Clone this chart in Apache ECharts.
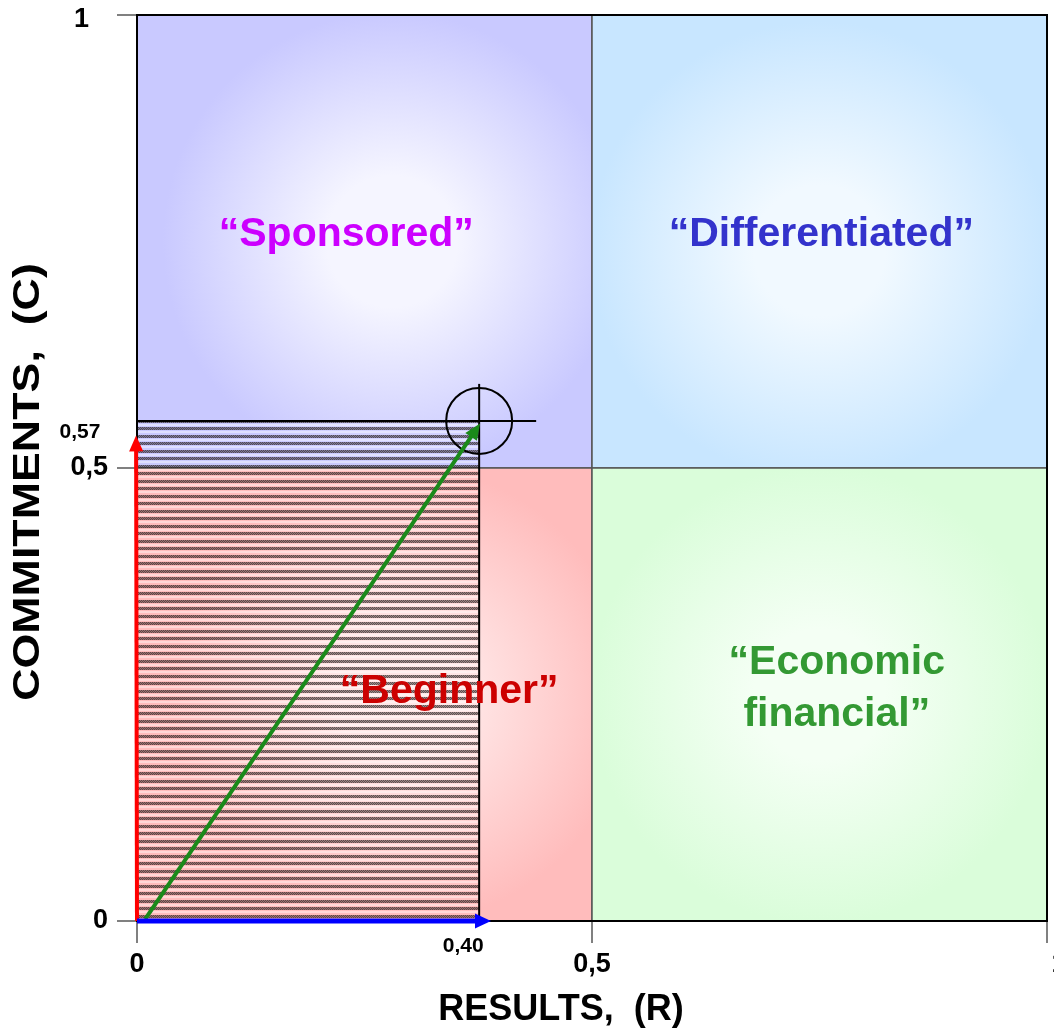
<!DOCTYPE html>
<html>
<head>
<meta charset="utf-8">
<script src="https://cdn.jsdelivr.net/npm/echarts@6/dist/echarts.min.js"></script>
<style>
html,body{margin:0;padding:0;background:#fff;}
#chart{width:1054px;height:1031px;}
</style>
</head>
<body>
<div id="chart"></div>
<script>
// ---- data ----
const axisTicks = [0, 0.5, 1];
const xTickLabels = ['0', '0,5', '1'];
const yTickLabels = ['0', '0,5', '1'];
const xAxisTitle = 'RESULTS,  (R)';
const yAxisTitle = 'COMMITMENTS,  (C)';
// quadrant bounds [x0, y0, x1, y1]
const quadrantBounds = [
  [0, 0.5, 0.5, 1],
  [0.5, 0.5, 1, 1],
  [0, 0, 0.5, 0.5],
  [0.5, 0, 1, 0.5]
];
const quadrantLabels = ['“Sponsored”', '“Differentiated”', '“Beginner”', '“Economic\nfinancial”'];
// label anchor in data units [x, y]
const quadrantLabelAnchors = [[0.23, 0.758], [0.752, 0.758], [0.343, 0.253], [0.769, 0.256]];
// measured position point (R, C) as drawn, and its annotated values
const pointR = 0.376;
const pointC = 0.552;
const pointLabels = ['0,40', '0,57'];
// arrows [x0, y0, x1, y1]
const arrowRC = [0.009, 0.002, 0.377, 0.549];
const arrowC = [0, 0, -0.001, 0.536];
const arrowR = [0, 0, 0.389, 0];
const arrows = [arrowRC, arrowC, arrowR];

// ---- styles ----
const FONT = '"Liberation Sans", Arial, sans-serif';
const quadrantStyles = [
  {outer: '#C9C9FF', inner: '#F5F5FF', cx: 0.56, cy: 0.5},
  {outer: '#C8E6FF', inner: '#F1F9FF', cx: 0.5, cy: 0.52},
  {outer: '#FFBCBC', inner: '#FFE6E6', cx: 0.58, cy: 0.5},
  {outer: '#DAFDDA', inner: '#F4FFF4', cx: 0.5, cy: 0.5}
];
const quadrantTextColors = ['#CC00FF', '#3333CC', '#CC0000', '#339933'];
const arrowStyles = [
  {color: '#1a8a1a', width: 4, len: 16, half: 7},
  {color: '#ff0000', width: 4, len: 16, half: 7},
  {color: '#0000ff', width: 5, len: 16, half: 7.5}
];

function makeHatch() {
  const c = document.createElement('canvas');
  c.width = 2; c.height = 15;
  const ctx = c.getContext('2d');
  const darkRows = [0, 1, 2, 7, 8, 9];
  const lightRows = [4, 5, 11, 12];
  for (let y = 0; y < 15; y++) {
    for (let x = 0; x < 2; x++) {
      if (darkRows.indexOf(y) >= 0) {
        ctx.fillStyle = ((x + y) % 2) ? 'rgba(35,25,25,0.72)' : 'rgba(35,25,25,0.45)';
        ctx.fillRect(x, y, 1, 1);
      } else if (lightRows.indexOf(y) >= 0) {
        ctx.fillStyle = 'rgba(255,255,255,0.4)';
        ctx.fillRect(x, y, 1, 1);
      }
    }
  }
  return c;
}
const hatchCanvas = makeHatch();

const chart = echarts.init(document.getElementById('chart'), null, {renderer: 'canvas'});

function labelFor(labels, v) {
  const i = axisTicks.indexOf(Math.round(v * 100) / 100);
  return i >= 0 ? labels[i] : '';
}

const option = {
  animation: false,
  grid: {left: 137, right: 7, top: 15, bottom: 110, containLabel: false, outerBoundsMode: 'none'},
  xAxis: {
    type: 'value', min: 0, max: 1, interval: 0.5,
    axisLine: {show: true, lineStyle: {color: '#000', width: 2}},
    axisTick: {show: true, length: 22, lineStyle: {color: '#808080', width: 2}},
    splitLine: {show: false},
    axisLabel: {
      margin: 30, fontSize: 27, fontWeight: 'bold', color: '#000', fontFamily: 'Liberation Sans',
      hideOverlap: false,
      formatter: v => (v === 1 ? '{edge|' + labelFor(xTickLabels, v) + '}' : labelFor(xTickLabels, v)),
      rich: {edge: {fontSize: 27, fontWeight: 'bold', fontFamily: 'Liberation Sans', color: '#000', padding: [0, 0, 0, 24]}}
    }
  },
  yAxis: {
    type: 'value', min: 0, max: 1, interval: 0.5,
    axisLine: {show: true, lineStyle: {color: '#000', width: 2}},
    axisTick: {show: true, length: 20, lineStyle: {color: '#808080', width: 2}},
    splitLine: {show: false},
    axisLabel: {
      margin: 29, fontSize: 27, fontWeight: 'bold', color: '#000', fontFamily: 'Liberation Sans',
      formatter: v => (v === 1 ? '{one|' + labelFor(yTickLabels, v) + '}' : labelFor(yTickLabels, v)),
      rich: {one: {fontSize: 27, fontWeight: 'bold', fontFamily: 'Liberation Sans', color: '#000', padding: [10, 19, 0, 0]}}
    }
  },
  graphic: [
    {type: 'text', x: 561, y: 1010, z: 100,
     style: {text: xAxisTitle, font: 'bold 36px ' + FONT, fill: '#000', align: 'center', verticalAlign: 'middle'}},
    {type: 'text', x: 29, y: 482, rotation: Math.PI / 2, scaleX: 1.21, z: 100,
     style: {text: yAxisTitle, font: 'bold 37px ' + FONT, fill: '#000', align: 'center', verticalAlign: 'middle'}}
  ],
  series: [
    {
      type: 'custom', z: 1, silent: true,
      data: quadrantBounds,
      renderItem: function (params, api) {
        const s = quadrantStyles[params.dataIndex];
        const p0 = api.coord([api.value(0), api.value(3)]);
        const p1 = api.coord([api.value(2), api.value(1)]);
        return {
          type: 'rect',
          shape: {x: p0[0], y: p0[1], width: p1[0] - p0[0], height: p1[1] - p0[1]},
          style: {
            fill: new echarts.graphic.RadialGradient(s.cx, s.cy, 0.72, [
              {offset: 0, color: s.inner},
              {offset: 0.2, color: s.inner},
              {offset: 0.7, color: s.outer},
              {offset: 1, color: s.outer}
            ]),
            stroke: '#555', lineWidth: 1.5
          }
        };
      }
    },
    {
      type: 'custom', z: 2, silent: true,
      data: [[0, 0, pointR, pointC]],
      renderItem: function (params, api) {
        const p0 = api.coord([api.value(0), api.value(3)]);
        const p1 = api.coord([api.value(2), api.value(1)]);
        const c = api.coord([pointR, pointC]);
        return {
          type: 'group',
          children: [
            {type: 'rect',
             shape: {x: p0[0], y: p0[1], width: p1[0] - p0[0], height: p1[1] - p0[1]},
             style: {fill: {image: hatchCanvas, repeat: 'repeat'}, stroke: '#000', lineWidth: 2}},
            {type: 'circle', shape: {cx: c[0], cy: c[1], r: 33},
             style: {fill: 'none', stroke: '#000', lineWidth: 2}},
            {type: 'line', shape: {x1: c[0] - 56, y1: c[1], x2: c[0] + 57, y2: c[1]},
             style: {stroke: '#000', lineWidth: 2}},
            {type: 'line', shape: {x1: c[0], y1: c[1] - 37, x2: c[0], y2: c[1]},
             style: {stroke: '#000', lineWidth: 2}}
          ]
        };
      }
    },
    {
      type: 'custom', z: 3, silent: true,
      data: [[0, 0, 1, 1]],
      renderItem: function (params, api) {
        const p0 = api.coord([api.value(0), api.value(3)]);
        const p1 = api.coord([api.value(2), api.value(1)]);
        return {type: 'rect',
          shape: {x: p0[0], y: p0[1], width: p1[0] - p0[0], height: p1[1] - p0[1]},
          style: {fill: 'none', stroke: '#000', lineWidth: 2}};
      }
    },
    {
      type: 'custom', z: 4, silent: true,
      data: arrows,
      renderItem: function (params, api) {
        const st = arrowStyles[params.dataIndex];
        const a = api.coord([api.value(0), api.value(1)]);
        const b = api.coord([api.value(2), api.value(3)]);
        const dx = b[0] - a[0], dy = b[1] - a[1];
        const d = Math.sqrt(dx * dx + dy * dy);
        const ux = dx / d, uy = dy / d;
        const bx = b[0] - ux * st.len, by = b[1] - uy * st.len;
        return {type: 'group', children: [
          {type: 'line', shape: {x1: a[0], y1: a[1], x2: bx + ux * 2, y2: by + uy * 2},
           style: {stroke: st.color, lineWidth: st.width}},
          {type: 'polygon', shape: {points: [
            [b[0], b[1]],
            [bx - uy * st.half, by + ux * st.half],
            [bx + uy * st.half, by - ux * st.half]
          ]}, style: {fill: st.color}}
        ]};
      }
    },
    {
      type: 'custom', z: 5, silent: true,
      data: quadrantLabelAnchors,
      renderItem: function (params, api) {
        const p = api.coord([api.value(0), api.value(1)]);
        return {type: 'text', x: p[0], y: p[1],
          style: {text: quadrantLabels[params.dataIndex], fill: quadrantTextColors[params.dataIndex],
            font: 'bold 41px ' + FONT, align: 'center', verticalAlign: 'middle', lineHeight: 52}};
      }
    },
    {
      type: 'custom', z: 5, silent: true,
      data: [[pointR, pointC]],
      renderItem: function (params, api) {
        const pc = api.coord([0, api.value(1)]);
        const pr = api.coord([api.value(0), 0]);
        return {type: 'group', children: [
          {type: 'text', x: pc[0] - 57, y: pc[1] + 11,
           style: {text: pointLabels[1], fill: '#000', font: 'bold 21px ' + FONT, align: 'center', verticalAlign: 'middle'}},
          {type: 'text', x: pr[0] - 16, y: pr[1] + 25,
           style: {text: pointLabels[0], fill: '#000', font: 'bold 21px ' + FONT, align: 'center', verticalAlign: 'middle'}}
        ]};
      }
    }
  ]
};
chart.setOption(option);
</script>
</body>
</html>
